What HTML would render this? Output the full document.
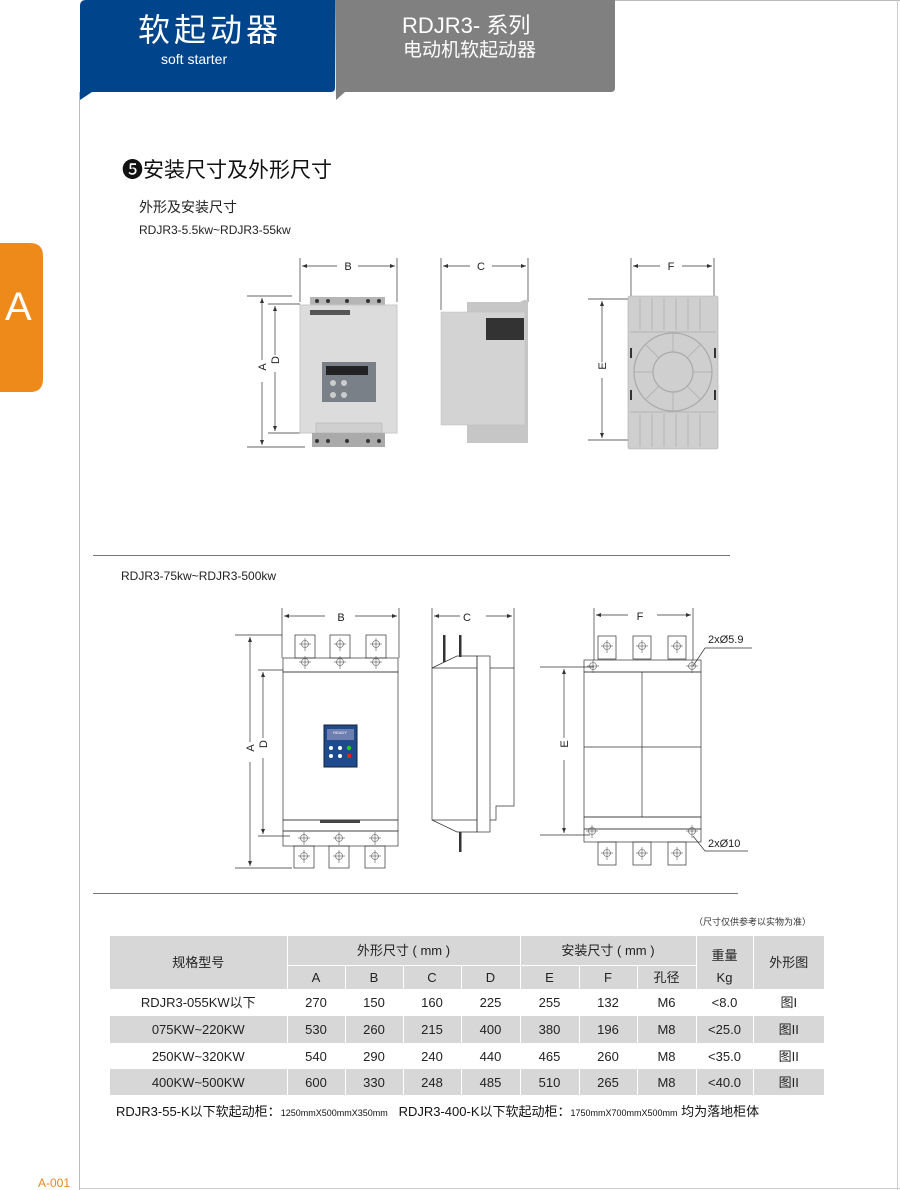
<!DOCTYPE html>
<html><head><meta charset="utf-8"><style>
body{margin:0;width:900px;height:1190px;background:#fff;position:relative;overflow:hidden;font-family:"Liberation Sans","Noto Sans CJK SC",sans-serif;}
.a{position:absolute;white-space:nowrap}
table{position:absolute;left:110px;top:936px;border-collapse:collapse;font-size:13px;color:#222}
td{text-align:center;border-left:1px solid #fff;padding:0;line-height:1}
tr.g td{background:#d7d7d7}
</style></head><body>
<svg width="900" height="1190" style="position:absolute;left:0;top:0" font-family="Liberation Sans, Noto Sans CJK SC, sans-serif">
<!-- page border -->
<line x1="79.5" y1="92" x2="79.5" y2="1190" stroke="#bbb"/>
<line x1="615" y1="0.5" x2="900" y2="0.5" stroke="#bbb"/>
<line x1="897.5" y1="0" x2="897.5" y2="1190" stroke="#ccc"/>
<line x1="80" y1="1188.5" x2="900" y2="1188.5" stroke="#ccc"/>
<!-- header tabs -->
<path d="M86 0 H335 V88 Q335 92 331 92 H92 L80 100 V6 Q80 0 86 0Z" fill="#00458c"/>
<path d="M335 0 H615 V88 Q615 92 611 92 H345 L336 100 Z" fill="#808080"/>
<!-- orange tab -->
<path d="M0 243 H30 Q43 243 43 256 V379 Q43 392 30 392 H0Z" fill="#ee8a1a"/>
<!-- separators -->
<line x1="93" y1="555.5" x2="730" y2="555.5" stroke="#777"/>
<line x1="93" y1="893.5" x2="738" y2="893.5" stroke="#777"/>

<g stroke="#333" stroke-width="0.7" fill="none">
<!-- diag1 dims -->
<line x1="300" y1="258" x2="300" y2="302"/><line x1="397" y1="258" x2="397" y2="302"/>
<line x1="302" y1="266" x2="337" y2="266"/><line x1="358" y1="266" x2="395" y2="266"/>
<line x1="247" y1="296" x2="292" y2="296"/><line x1="247" y1="447" x2="305" y2="447"/>
<line x1="268" y1="304" x2="300" y2="304"/><line x1="268" y1="433" x2="300" y2="433"/>
<line x1="262" y1="298" x2="262" y2="360"/><line x1="262" y1="382" x2="262" y2="445"/>
<line x1="275" y1="306" x2="275" y2="355"/><line x1="275" y1="372" x2="275" y2="431"/>
<line x1="441" y1="258" x2="441" y2="310"/><line x1="528" y1="258" x2="528" y2="302"/>
<line x1="443" y1="266" x2="470" y2="266"/><line x1="492" y1="266" x2="526" y2="266"/>
<line x1="631" y1="258" x2="631" y2="300"/><line x1="714" y1="258" x2="714" y2="300"/>
<line x1="633" y1="266" x2="660" y2="266"/><line x1="682" y1="266" x2="712" y2="266"/>
<line x1="588" y1="299" x2="630" y2="299"/><line x1="588" y1="440" x2="630" y2="440"/>
<line x1="602" y1="301" x2="602" y2="362"/><line x1="602" y1="378" x2="602" y2="438"/>
</g>
<g fill="#333">
<path d="M302 266 l5 -2 v4z M395 266 l-5 -2 v4z M443 266 l5 -2 v4z M526 266 l-5 -2 v4z M633 266 l5 -2 v4z M712 266 l-5 -2 v4z"/>
<path d="M262 298 l-2 5 h4z M262 445 l-2 -5 h4z M275 306 l-2 5 h4z M275 431 l-2 -5 h4z M602 301 l-2 5 h4z M602 438 l-2 -5 h4z"/>
</g>
<g font-size="11" fill="#222" text-anchor="middle">
<text x="348" y="270">B</text><text x="481" y="270">C</text><text x="671" y="270">F</text>
<text x="266" y="375" transform="rotate(-90 262 371)">A</text>
<text x="279" y="368" transform="rotate(-90 275 364)">D</text>
<text x="606" y="374" transform="rotate(-90 602 370)">E</text>
</g>
<!-- front photo -->
<rect x="310" y="297" width="75" height="10" fill="#b5b5b5"/>
<rect x="300" y="305" width="97" height="128" fill="#dcdcdc" stroke="#c8c8c8"/>
<rect x="312" y="433" width="73" height="14" fill="#aaa"/>
<g fill="#333"><circle cx="317" cy="301" r="2"/><circle cx="328" cy="301" r="2"/><circle cx="347" cy="301" r="2"/><circle cx="368" cy="301" r="2"/><circle cx="379" cy="301" r="2"/>
<circle cx="317" cy="441" r="2"/><circle cx="328" cy="441" r="2"/><circle cx="347" cy="441" r="2"/><circle cx="368" cy="441" r="2"/><circle cx="379" cy="441" r="2"/></g>
<rect x="310" y="310" width="40" height="5" fill="#555"/>
<rect x="322" y="362" width="54" height="40" fill="#7a8088"/>
<rect x="326" y="366" width="42" height="9" fill="#222"/>
<g fill="#ccc"><circle cx="333" cy="383" r="3"/><circle cx="344" cy="383" r="3"/><circle cx="333" cy="395" r="3"/><circle cx="344" cy="395" r="3"/></g>
<rect x="316" y="423" width="66" height="10" fill="#cfcfcf" stroke="#aaa" stroke-width=".5"/>
<!-- side photo -->
<path d="M467 302 H520 L524 300 H528 V443 H520 L467 443Z" fill="#c6c6c6"/>
<rect x="441" y="312" width="84" height="113" fill="#d3d3d3" stroke="#bbb" stroke-width=".5"/>
<rect x="486" y="318" width="38" height="22" fill="#333"/>
<!-- back plate -->
<rect x="628" y="296" width="90" height="153" rx="2" fill="#cfcfcf" stroke="#aaa" stroke-width=".6"/>
<g stroke="#aaa" stroke-width=".7" fill="none">
<line x1="640" y1="298" x2="640" y2="330"/><line x1="652" y1="298" x2="652" y2="330"/><line x1="664" y1="298" x2="664" y2="330"/><line x1="676" y1="298" x2="676" y2="330"/><line x1="688" y1="298" x2="688" y2="330"/><line x1="700" y1="298" x2="700" y2="330"/>
<line x1="640" y1="414" x2="640" y2="447"/><line x1="652" y1="414" x2="652" y2="447"/><line x1="664" y1="414" x2="664" y2="447"/><line x1="676" y1="414" x2="676" y2="447"/><line x1="688" y1="414" x2="688" y2="447"/><line x1="700" y1="414" x2="700" y2="447"/>
<line x1="630" y1="332" x2="716" y2="332"/><line x1="630" y1="412" x2="716" y2="412"/>
<circle cx="673" cy="372" r="39" stroke-width="1.2"/><circle cx="673" cy="372" r="20" stroke-width="1.2"/>
<line x1="673" y1="333" x2="673" y2="352"/><line x1="673" y1="392" x2="673" y2="411"/><line x1="634" y1="372" x2="653" y2="372"/><line x1="693" y1="372" x2="712" y2="372"/>
<line x1="645" y1="344" x2="659" y2="358"/><line x1="687" y1="386" x2="701" y2="400"/><line x1="701" y1="344" x2="687" y2="358"/><line x1="659" y1="386" x2="645" y2="400"/>
</g>
<g fill="#333"><rect x="630" y="348" width="2" height="10"/><rect x="714" y="348" width="2" height="10"/><rect x="630" y="390" width="2" height="10"/><rect x="714" y="390" width="2" height="10"/></g>

<!-- diagram 2 -->
<g stroke="#333" stroke-width="0.7" fill="none">
<!-- front -->
<line x1="282" y1="608" x2="282" y2="658"/><line x1="399" y1="608" x2="399" y2="658"/>
<line x1="284" y1="616" x2="325" y2="616"/><line x1="355" y1="616" x2="397" y2="616"/>
<line x1="235" y1="635" x2="282" y2="635"/><line x1="235" y1="868" x2="292" y2="868"/>
<line x1="258" y1="670" x2="283" y2="670"/><line x1="258" y1="836" x2="290" y2="836"/>
<line x1="250" y1="637" x2="250" y2="742"/><line x1="250" y1="762" x2="250" y2="866"/>
<line x1="263" y1="672" x2="263" y2="738"/><line x1="263" y1="758" x2="263" y2="834"/>
<rect x="283" y="658" width="115" height="14"/>
<rect x="283" y="672" width="115" height="148"/>
<rect x="283" y="820" width="115" height="11"/>
<rect x="283" y="831" width="115" height="15"/>
<rect x="295" y="635" width="20" height="23"/><rect x="330" y="635" width="20" height="23"/><rect x="366" y="635" width="20" height="23"/>
<rect x="294" y="846" width="20" height="22"/><rect x="329" y="846" width="20" height="22"/><rect x="365" y="846" width="20" height="22"/>
<!-- side -->
<line x1="432" y1="608" x2="432" y2="668"/><line x1="514" y1="608" x2="514" y2="668"/>
<line x1="434" y1="616" x2="460" y2="616"/><line x1="486" y1="616" x2="512" y2="616"/>
<path d="M432 668 L457 656 H477 V832 H457 L432 820Z"/>
<line x1="432" y1="668" x2="477" y2="668"/>
<line x1="432" y1="820" x2="477" y2="820"/>
<rect x="477" y="656" width="13" height="176"/>
<path d="M490 668 H514 V806 H496 V820 H490"/>
<!-- back -->
<line x1="594" y1="608" x2="594" y2="660"/><line x1="693" y1="608" x2="693" y2="660"/>
<line x1="596" y1="615" x2="628" y2="615"/><line x1="657" y1="615" x2="691" y2="615"/>
<rect x="584" y="660" width="117" height="12"/>
<rect x="584" y="672" width="117" height="145"/>
<line x1="642" y1="672" x2="642" y2="817"/><line x1="584" y1="747" x2="701" y2="747"/>
<rect x="584" y="817" width="117" height="12"/>
<rect x="584" y="829" width="117" height="13"/>
<rect x="598" y="636" width="18" height="23"/><rect x="633" y="636" width="18" height="23"/><rect x="668" y="636" width="18" height="23"/>
<rect x="598" y="842" width="18" height="23"/><rect x="633" y="842" width="18" height="23"/><rect x="668" y="842" width="18" height="23"/>
<line x1="540" y1="667" x2="594" y2="667"/><line x1="540" y1="835" x2="590" y2="835"/>
<line x1="564" y1="669" x2="564" y2="738"/><line x1="564" y1="760" x2="564" y2="833"/>
<path d="M693 666 L705 648 H752"/><path d="M693 836 L705 851 H748"/>
</g>
<g stroke="#555" stroke-width="0.6" fill="none">
<g id="cr"><circle cx="305" cy="644" r="3.5"/><line x1="305" y1="638" x2="305" y2="651"/><line x1="299" y1="644" x2="311" y2="644"/></g>
<use href="#cr" x="35"/><use href="#cr" x="71"/>
<use href="#cr" y="18"/><use href="#cr" x="35" y="18"/><use href="#cr" x="71" y="18"/>
<use href="#cr" x="-1" y="194"/><use href="#cr" x="34" y="194"/><use href="#cr" x="70" y="194"/>
<use href="#cr" x="-1" y="212"/><use href="#cr" x="34" y="212"/><use href="#cr" x="70" y="212"/>
<use href="#cr" x="302" y="2"/><use href="#cr" x="337" y="2"/><use href="#cr" x="372" y="2"/>
<use href="#cr" x="302" y="209"/><use href="#cr" x="337" y="209"/><use href="#cr" x="372" y="209"/>
<use href="#cr" x="288" y="22"/><use href="#cr" x="387" y="22"/>
<use href="#cr" x="287" y="187"/><use href="#cr" x="387" y="187"/>
</g>
<g fill="#333">
<path d="M284 616 l5 -2 v4z M397 616 l-5 -2 v4z M434 616 l5 -2 v4z M512 616 l-5 -2 v4z M596 615 l5 -2 v4z M691 615 l-5 -2 v4z"/>
<path d="M250 637 l-2 5 h4z M250 866 l-2 -5 h4z M263 672 l-2 5 h4z M263 834 l-2 -5 h4z M564 669 l-2 5 h4z M564 833 l-2 -5 h4z"/>
<rect x="443" y="635" width="2.5" height="27"/><rect x="459" y="635" width="2.5" height="22"/><rect x="459" y="832" width="2.5" height="20"/>
<rect x="320" y="820" width="40" height="3" fill="#444"/>
</g>
<rect x="324" y="725" width="33" height="42" fill="#1e4b8e" stroke="#123"/>
<rect x="327" y="729" width="27" height="11" fill="#6c7fb0"/>
<text x="340" y="734" font-size="4" fill="#fff" text-anchor="middle">READY</text>
<g fill="#fff"><circle cx="331" cy="748" r="2"/><circle cx="340" cy="748" r="2"/><circle cx="331" cy="756" r="2"/><circle cx="340" cy="756" r="2"/></g>
<circle cx="349" cy="748" r="2.2" fill="#2c2"/><rect x="347" y="754" width="4" height="4" fill="#d22"/>
<g font-size="11" fill="#222" text-anchor="middle">
<text x="341" y="621">B</text><text x="467" y="621">C</text><text x="640" y="620">F</text>
<text x="254" y="756" transform="rotate(-90 250 752)">A</text>
<text x="267" y="752" transform="rotate(-90 263 748)">D</text>
<text x="568" y="752" transform="rotate(-90 564 748)">E</text>
</g>
<text x="708" y="643" font-size="11" fill="#222">2xØ5.9</text>
<text x="708" y="847" font-size="11" fill="#222">2xØ10</text>
</svg>

<div class="a" style="left:138px;top:14px;font-size:32px;color:#fff;letter-spacing:4px;line-height:1">软起动器</div>
<div class="a" style="left:161px;top:51px;font-size:14px;color:#fff">soft starter</div>
<div class="a" style="left:402px;top:15px;font-size:22px;color:#fff;line-height:1">RDJR3- 系列</div>
<div class="a" style="left:403px;top:41px;font-size:19px;color:#fff;line-height:1">电动机软起动器</div>
<div class="a" style="left:5px;top:285px;font-size:40px;color:#fff">A</div>
<div class="a" style="left:122px;top:159px;font-size:21px;color:#111;line-height:1.1">❺安装尺寸及外形尺寸</div>
<div class="a" style="left:139px;top:197px;font-size:14px;color:#222">外形及安装尺寸</div>
<div class="a" style="left:139px;top:223px;font-size:12px;color:#222">RDJR3-5.5kw~RDJR3-55kw</div>
<div class="a" style="left:121px;top:569px;font-size:12px;color:#222">RDJR3-75kw~RDJR3-500kw</div>
<div class="a" style="left:694px;top:915px;font-size:9px;color:#333">（尺寸仅供参考以实物为准）</div>
<div class="a" style="left:38px;top:1176px;font-size:12px;color:#e8871a">A-001</div>

<table>
<colgroup><col style="width:177px"><col style="width:58px"><col style="width:58px"><col style="width:58px"><col style="width:59px"><col style="width:59px"><col style="width:58px"><col style="width:59px"><col style="width:57px"><col style="width:71px"></colgroup>
<tr class="g" style="height:29px"><td rowspan="2" style="border-left:0">规格型号</td><td colspan="4" style="border-bottom:1px solid #fff">外形尺寸 ( mm )</td><td colspan="3" style="border-bottom:1px solid #fff">安装尺寸 ( mm )</td><td style="padding-top:10px">重量</td><td rowspan="2">外形图</td></tr>
<tr class="g" style="height:24px"><td>A</td><td>B</td><td>C</td><td>D</td><td>E</td><td>F</td><td>孔径</td><td>Kg</td></tr>
<tr style="height:27px"><td style="border-left:0">RDJR3-055KW以下</td><td>270</td><td>150</td><td>160</td><td>225</td><td>255</td><td>132</td><td>M6</td><td>&lt;8.0</td><td>图I</td></tr>
<tr class="g" style="height:27px"><td style="border-left:0">075KW~220KW</td><td>530</td><td>260</td><td>215</td><td>400</td><td>380</td><td>196</td><td>M8</td><td>&lt;25.0</td><td>图II</td></tr>
<tr style="height:26px"><td style="border-left:0">250KW~320KW</td><td>540</td><td>290</td><td>240</td><td>440</td><td>465</td><td>260</td><td>M8</td><td>&lt;35.0</td><td>图II</td></tr>
<tr class="g" style="height:26px"><td style="border-left:0">400KW~500KW</td><td>600</td><td>330</td><td>248</td><td>485</td><td>510</td><td>265</td><td>M8</td><td>&lt;40.0</td><td>图II</td></tr>
</table>
<div class="a" style="left:116px;top:1101px;font-size:13px;color:#111">RDJR3-55-K以下软起动柜：<span style="font-size:9px">1250mmX500mmX350mm</span>&nbsp;&nbsp;&nbsp;RDJR3-400-K以下软起动柜：<span style="font-size:9px">1750mmX700mmX500mm</span> 均为落地柜体</div>
</body></html>
